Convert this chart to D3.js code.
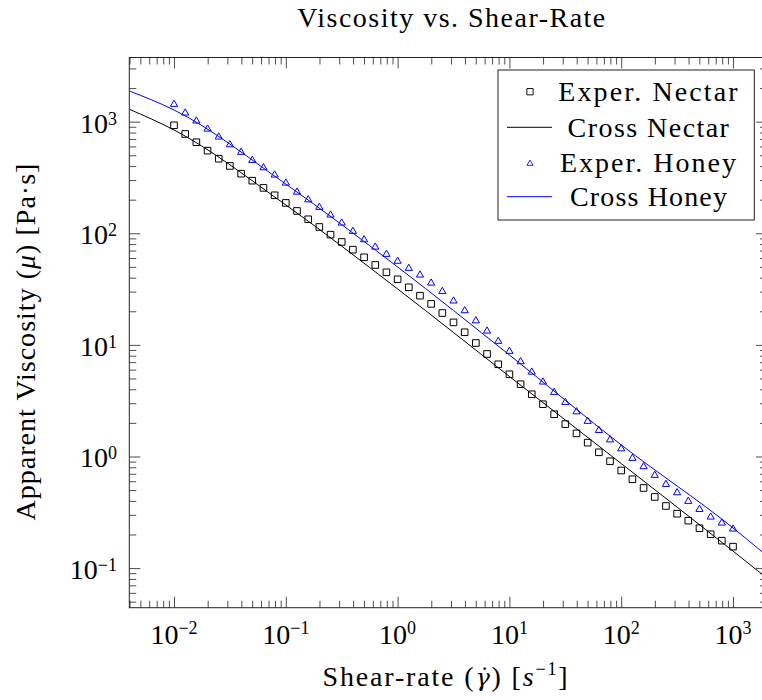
<!DOCTYPE html>
<html>
<head>
<meta charset="utf-8">
<script src="https://cdn.jsdelivr.net/npm/d3@7"></script>
<style>
  html, body { margin: 0; padding: 0; background: #fff; }
  svg { display: block; }
</style>
</head>
<body>
<svg id="chart" width="762" height="700" font-family="'Liberation Serif', 'Times New Roman', serif"></svg>
<script>
// Shear rates of the measured points [1/s]
const shearRate = [
  0.01, 0.01259, 0.01585, 0.01995, 0.02512, 0.03162, 0.03981, 0.05012, 0.06310, 0.07943,
  0.1, 0.1259, 0.1585, 0.1995, 0.2512, 0.3162, 0.3981, 0.5012, 0.6310, 0.7943,
  1, 1.259, 1.585, 1.995, 2.512, 3.162, 3.981, 5.012, 6.310, 7.943,
  10, 12.59, 15.85, 19.95, 25.12, 31.62, 39.81, 50.12, 63.10, 79.43,
  100, 125.9, 158.5, 199.5, 251.2, 316.2, 398.1, 501.2, 631.0, 794.3,
  1000
];
// Measured apparent viscosity [Pa·s]
const experNectar = [
  928, 776, 654, 550, 466, 401, 342, 296, 255, 219,
  187, 158.5, 133.5, 113.9, 97.2, 83.6, 71.3, 60.9, 52.0, 44.7,
  38.7, 32.8, 27.6, 23.3, 19.3, 15.9, 12.97, 10.4, 8.29, 6.70,
  5.45, 4.44, 3.61, 2.94, 2.39, 1.95, 1.61, 1.33, 1.09, 0.906,
  0.749, 0.625, 0.522, 0.434, 0.360, 0.307, 0.266, 0.2275, 0.201, 0.176,
  0.1556
];
const experHoney = [
  1462, 1222, 1036, 878, 745, 635, 543, 460, 395, 340,
  288, 239, 204, 174.6, 148.9, 126.3, 106.4, 89.5, 76.9, 66.2,
  57.4, 49.6, 43.2, 36.6, 30.8, 25.3, 20.7, 16.8, 13.6, 11.0,
  8.95, 7.22, 5.83, 4.75, 3.84, 3.12, 2.57, 2.11, 1.75, 1.44,
  1.197, 0.984, 0.828, 0.693, 0.575, 0.484, 0.405, 0.343, 0.293, 0.259,
  0.2288
];
// Cross-model fit curves, sampled along the shear-rate axis
const crossRate = [0.00398, 0.01, 0.1, 1, 10, 100, 1000, 1820];
const crossNectar = [1292, 843, 179.4, 31.7, 5.21, 0.865, 0.142, 0.088];
const crossHoney = [1884, 1273, 276, 49.9, 8.12, 1.27, 0.229, 0.140];

// Axis decades that carry labels
const xExponents = [-2, -1, 0, 1, 2, 3];
const yExponents = [-1, 0, 1, 2, 3];

const legendLabels = ["Exper. Nectar", "Cross Nectar", "Exper. Honey", "Cross Honey"];
const titleText = "Viscosity vs. Shear-Rate";

const svg = d3.select("#chart");
const box = { left: 129.3, right: 767, top: 57.5, bottom: 607.7 };
const BLUE = "#0000ff";

const x = d3.scaleLog()
  .domain([Math.pow(10, -2.4), Math.pow(10, 3.304)])
  .range([box.left, box.right]);
const y = d3.scaleLog()
  .domain([Math.pow(10, -1.355), Math.pow(10, 3.575)])
  .range([box.bottom, box.top]);

function minorTicks(scale) {
  const [a, b] = scale.domain();
  const out = [];
  for (let d = Math.floor(Math.log10(a)); d <= Math.ceil(Math.log10(b)); d++) {
    for (let m = 2; m <= 9; m++) {
      const v = m * Math.pow(10, d);
      if (v > a && v < b) out.push(v);
    }
  }
  return out;
}
const fmtExp = e => (e < 0 ? "\u2212" + (-e) : String(e));

// Tick marks on all four sides, pointing inward
const H = box.bottom - box.top, Wd = box.right - box.left;
const MAJ = 11, MIN = 7;
function tickLayer(axisFn, scale, values, len, transform) {
  const g = svg.append("g").attr("transform", transform)
    .call(axisFn(scale).tickValues(values).tickSize(-len).tickSizeOuter(0).tickFormat(() => ""));
  g.select(".domain").remove();
  g.selectAll(".tick line").attr("stroke", "#000").attr("stroke-width", 0.7);
  g.selectAll(".tick text").remove();
  return g;
}
const xMajor = xExponents.map(e => Math.pow(10, e));
const yMajor = yExponents.map(e => Math.pow(10, e));
tickLayer(d3.axisBottom, x, minorTicks(x), MIN, `translate(0,${box.bottom})`);
tickLayer(d3.axisTop, x, minorTicks(x), MIN, `translate(0,${box.top})`);
tickLayer(d3.axisLeft, y, minorTicks(y), MIN, `translate(${box.left},0)`);
tickLayer(d3.axisRight, y, minorTicks(y), MIN, `translate(${box.right},0)`);
tickLayer(d3.axisBottom, x, xMajor, MAJ, `translate(0,${box.bottom})`);
tickLayer(d3.axisTop, x, xMajor, MAJ, `translate(0,${box.top})`);
tickLayer(d3.axisLeft, y, yMajor, MAJ, `translate(${box.left},0)`);
tickLayer(d3.axisRight, y, yMajor, MAJ, `translate(${box.right},0)`);

// Tick labels of the form 10^k
const xLab = svg.append("g");
xExponents.forEach(e => {
  const t = xLab.append("text")
    .attr("x", x(Math.pow(10, e))).attr("y", 643.5)
    .attr("text-anchor", "middle").attr("font-size", 28);
  t.append("tspan").text("10");
  t.append("tspan").attr("dy", -10).attr("font-size", 18).text(fmtExp(e));
});
const yLab = svg.append("g");
yExponents.forEach(e => {
  const t = yLab.append("text")
    .attr("x", 117).attr("y", y(Math.pow(10, e)) + 11)
    .attr("text-anchor", "end").attr("font-size", 28);
  t.append("tspan").text("10");
  t.append("tspan").attr("dy", -8).attr("font-size", 18).text(fmtExp(e));
});

// Plot data
svg.append("clipPath").attr("id", "plotclip")
  .append("rect").attr("x", box.left).attr("y", box.top).attr("width", Wd).attr("height", H);
const plotG = svg.append("g").attr("clip-path", "url(#plotclip)");

const line = d3.line().x(d => x(d[0])).y(d => y(d[1])).curve(d3.curveMonotoneX);
plotG.append("path").datum(d3.zip(crossRate, crossNectar))
  .attr("d", line).attr("fill", "none").attr("stroke", "#000").attr("stroke-width", 1);
plotG.append("path").datum(d3.zip(crossRate, crossHoney))
  .attr("d", line).attr("fill", "none").attr("stroke", BLUE).attr("stroke-width", 1);

const squarePath = "M-3.3,-3.3H3.3V3.3H-3.3Z";
const trianglePath = "M0,-3.1L3.6,3.1L-3.6,3.1Z";

plotG.selectAll("path.sq").data(d3.zip(shearRate, experNectar)).join("path")
  .attr("class", "sq").attr("d", squarePath)
  .attr("transform", d => `translate(${x(d[0])},${y(d[1])})`)
  .attr("fill", "none").attr("stroke", "#000").attr("stroke-width", 1);
plotG.selectAll("path.tri").data(d3.zip(shearRate, experHoney)).join("path")
  .attr("class", "tri").attr("d", trianglePath)
  .attr("transform", d => `translate(${x(d[0])},${y(d[1])})`)
  .attr("fill", "none").attr("stroke", BLUE).attr("stroke-width", 1);

// Frame
svg.append("rect").attr("x", box.left).attr("y", box.top).attr("width", Wd).attr("height", H)
  .attr("fill", "none").attr("stroke", "#222").attr("stroke-width", 1);

// Stretch a text element to a given width via letter spacing
function fitWidth(sel, target) {
  const n = sel.text().length;
  const w = sel.node().getBBox().width;
  if (n > 1) sel.attr("letter-spacing", ((target - w) / (n - 1)).toFixed(2));
}

// Title
const title = svg.append("text").attr("x", 452).attr("y", 27)
  .attr("text-anchor", "middle").attr("font-size", 28).text(titleText);
fitWidth(title, 308);

// Axis labels
const xl = svg.append("text").attr("x", 446).attr("y", 686)
  .attr("text-anchor", "middle").attr("font-size", 28);
xl.append("tspan").text("Shear-rate (");
xl.append("tspan").attr("font-style", "italic").attr("font-family", "'DejaVu Serif', serif")
  .attr("font-size", 24).text("\u03B3\u0307");
xl.append("tspan").text(") [");
xl.append("tspan").attr("font-style", "italic").text("s");
xl.append("tspan").attr("dy", -11).attr("font-size", 18).text("\u22121");
xl.append("tspan").attr("dy", 11).text("]");
fitWidth(xl, 247);

const yl = svg.append("text").attr("transform", "translate(35,341.5) rotate(-90)")
  .attr("text-anchor", "middle").attr("font-size", 28);
yl.append("tspan").text("Apparent Viscosity (");
yl.append("tspan").attr("font-style", "italic").text("\u03BC");
yl.append("tspan").text(") [Pa\u00B7s]");
fitWidth(yl, 357);

// Legend
const lg = svg.append("g");
lg.append("rect").attr("x", 498).attr("y", 70).attr("width", 256.3).attr("height", 150)
  .attr("fill", "#fff").attr("stroke", "#222").attr("stroke-width", 1);
const rowY = [91.7, 127.3, 162.7, 196.7];
const legendWidths = [180, 162, 176, 157];
lg.append("path").attr("d", squarePath).attr("transform", `translate(530,${rowY[0]}) scale(0.95)`)
  .attr("fill", "none").attr("stroke", "#000").attr("stroke-width", 1);
lg.append("line").attr("x1", 507).attr("x2", 552).attr("y1", rowY[1]).attr("y2", rowY[1])
  .attr("stroke", "#000").attr("stroke-width", 1);
lg.append("path").attr("d", trianglePath).attr("transform", `translate(530,${rowY[2]}) scale(0.85)`)
  .attr("fill", "none").attr("stroke", BLUE).attr("stroke-width", 1);
lg.append("line").attr("x1", 507).attr("x2", 552).attr("y1", rowY[3]).attr("y2", rowY[3])
  .attr("stroke", BLUE).attr("stroke-width", 1);
legendLabels.forEach((s, i) => {
  const t = lg.append("text").attr("x", 649).attr("y", rowY[i] + 9.5)
    .attr("text-anchor", "middle").attr("font-size", 28).text(s);
  fitWidth(t, legendWidths[i]);
});
</script>
</body>
</html>
